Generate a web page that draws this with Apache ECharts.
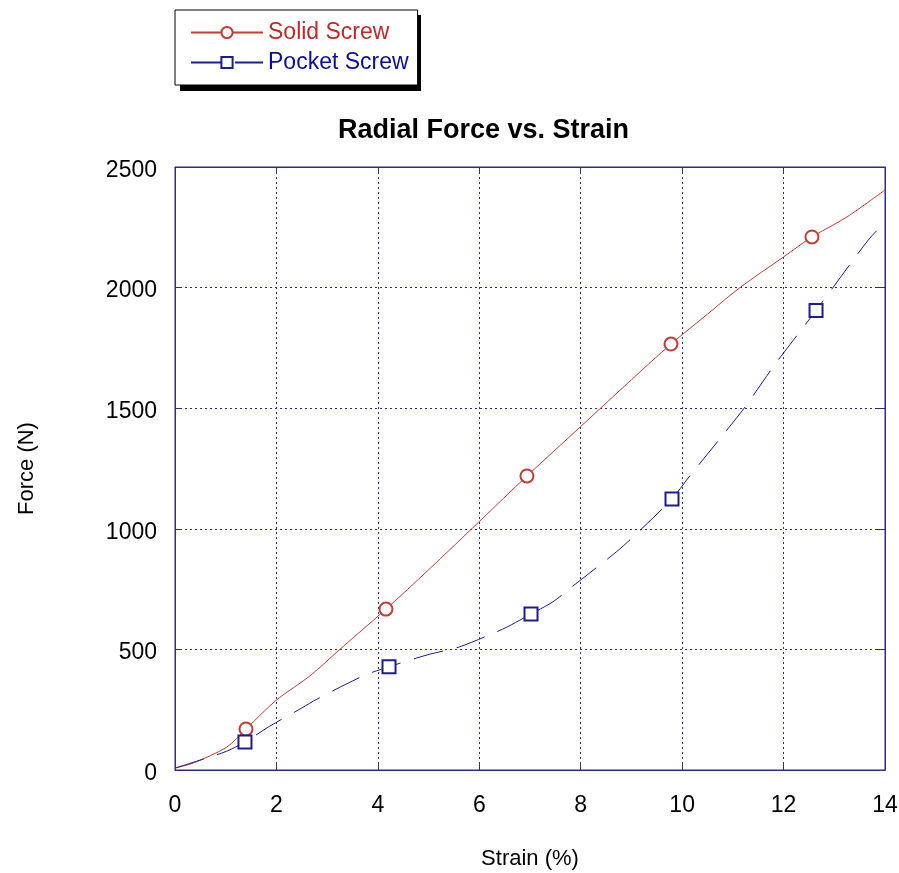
<!DOCTYPE html>
<html>
<head>
<meta charset="utf-8">
<script src="https://cdn.jsdelivr.net/npm/echarts@6/dist/echarts.min.js"></script>
<style>
  html, body { margin: 0; padding: 0; background: #fff; }
  #chart { width: 899px; height: 873px; }
</style>
</head>
<body>
<div id="chart"></div>
<script>
// data
const solidStrain = [0, 0.36, 1.02, 1.4, 2, 2.66, 3.25, 4.16, 5, 6, 6.94, 8, 9, 9.78, 10.5, 11.14, 12, 12.56, 13.25, 14];
const solidForce  = [8, 29, 95, 170, 290, 390, 500, 667, 830, 1030, 1219, 1424, 1618, 1766, 1890, 2000, 2127, 2210, 2293, 2405];
const solidMarks  = [3, 7, 10, 13, 17];

const pocketStrain = [0, 0.3, 0.63, 1.02, 1.38, 1.87, 2.5, 2.8, 3.71, 4.22, 4.97, 5.6, 6.2, 6.55, 7.02, 7.45, 7.8, 8.7, 9.03, 9.8, 10.12, 10.85, 11.24, 11.78, 12.0, 12.64, 12.98, 13.67, 14];
const pocketForce  = [8, 28, 50, 78, 116, 182, 257, 294, 390, 428, 477, 510, 560, 593, 647, 697, 755, 904, 966, 1124, 1211, 1401, 1505, 1667, 1729, 1905, 2002, 2197, 2272];
const pocketMarks  = [4, 9, 14, 19, 25];

const FONT = 'Liberation Sans, Arial, sans-serif';
const axisCol = '#2b2b8a';
const redCol = '#c83a32';
const blueCol = '#1c1c9a';

// only marker points keep their symbol
function buildData(xs, ys, marks) {
  return xs.map((x, i) => marks.includes(i)
    ? { value: [x, ys[i]] }
    : { value: [x, ys[i]], symbol: 'none' });
}

const chart = echarts.init(document.getElementById('chart'));

const option = {
  animation: false,
  backgroundColor: '#fff',
  textStyle: { fontFamily: FONT },
  title: {
    text: 'Radial Force vs. Strain',
    left: 333,
    top: 112,
    textStyle: { fontSize: 27, fontWeight: 'bold', color: '#000', fontFamily: FONT }
  },
  // black drop shadow behind the legend box
  graphic: [{
    type: 'rect',
    left: 180, top: 15,
    shape: { width: 241, height: 76 },
    style: { fill: '#000' },
    z: 1
  }],
  legend: {
    orient: 'vertical',
    left: 175,
    top: 10,
    z: 10,
    padding: [11, 9, 11, 15],
    itemGap: 7,
    itemWidth: 72,
    itemHeight: 14,
    backgroundColor: '#fff',
    borderColor: '#000',
    borderWidth: 1,
    borderRadius: 0,
    textStyle: { fontSize: 23, fontFamily: FONT },
    data: [
      { name: 'Solid Screw', textStyle: { color: '#c42828' } },
      { name: 'Pocket Screw', textStyle: { color: '#0c0ca0' } }
    ]
  },
  grid: {
    left: 175, right: 14, top: 167, bottom: 103,
    outerBoundsMode: 'none',
    show: true, borderColor: axisCol, borderWidth: 1
  },
  xAxis: [{
    type: 'value',
    min: 0, max: 14, interval: 2,
    name: 'Strain (%)',
    nameLocation: 'middle',
    nameGap: 78,
    nameTextStyle: { fontSize: 22, color: '#000', fontFamily: FONT },
    axisLine: { show: true, onZero: false, lineStyle: { color: axisCol } },
    axisTick: { show: true, inside: true, length: 6, lineStyle: { color: axisCol } },
    axisLabel: { fontSize: 23, color: '#000', margin: 24, fontFamily: FONT },
    splitLine: { show: true, lineStyle: { color: axisCol, type: [2, 3], width: 1 } }
  }, {
    type: 'value', position: 'top',
    min: 0, max: 14, interval: 2,
    axisLine: { show: true, onZero: false, lineStyle: { color: axisCol } },
    axisTick: { show: true, inside: true, length: 5, lineStyle: { color: axisCol } },
    axisLabel: { show: false },
    splitLine: { show: false }
  }],
  yAxis: [{
    type: 'value',
    min: 0, max: 2500, interval: 500,
    name: 'Force (N)',
    nameLocation: 'middle',
    nameGap: 137,
    nameTextStyle: { fontSize: 22, color: '#000', fontFamily: FONT },
    axisLine: { show: true, onZero: false, lineStyle: { color: axisCol } },
    axisTick: { show: true, inside: true, length: 5, lineStyle: { color: axisCol } },
    axisLabel: {
      color: '#000', margin: 18, fontFamily: FONT,
      formatter: v => '{n|' + v + '}',
      rich: { n: { fontSize: 23, color: '#000', fontFamily: FONT, padding: [7, 0, 0, 0] } }
    },
    splitLine: { show: true, lineStyle: { color: axisCol, type: [2, 3], width: 1 } }
  }, {
    type: 'value', position: 'right',
    min: 0, max: 2500, interval: 500,
    axisLine: { show: true, onZero: false, lineStyle: { color: axisCol } },
    axisTick: { show: true, inside: true, length: 10, lineStyle: { color: axisCol } },
    axisLabel: { show: false },
    splitLine: { show: false }
  }],
  series: [
    {
      name: 'Solid Screw',
      type: 'line',
      smooth: 0.3,
      symbol: 'emptyCircle',
      symbolSize: 13,
      showAllSymbol: true,
      color: redCol,
      lineStyle: { color: redCol, width: 1 },
      itemStyle: { color: redCol, borderColor: redCol, borderWidth: 1.2 },
      data: buildData(solidStrain, solidForce, solidMarks),
      z: 3
    },
    {
      name: 'Pocket Screw',
      type: 'line',
      smooth: 0.3,
      symbol: 'emptyRect',
      symbolSize: 13,
      showAllSymbol: true,
      color: blueCol,
      lineStyle: { color: blueCol, width: 1, type: [30, 14] },
      itemStyle: { color: blueCol, borderColor: blueCol, borderWidth: 1.2 },
      data: buildData(pocketStrain, pocketForce, pocketMarks),
      z: 3
    }
  ]
};

option && chart.setOption(option);
</script>
</body>
</html>
